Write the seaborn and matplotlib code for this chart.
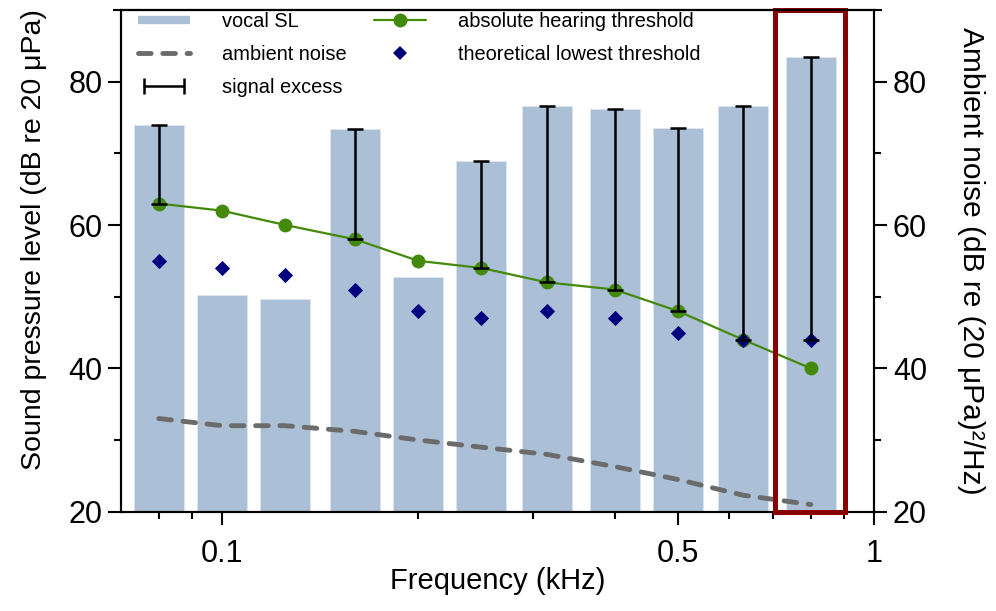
import numpy as np
import pandas as pd
import matplotlib
matplotlib.use("Agg")
import matplotlib.pyplot as plt
import seaborn as sns
from matplotlib.lines import Line2D
from matplotlib.patches import Rectangle
from matplotlib.legend_handler import HandlerLine2D
from matplotlib.ticker import FixedLocator, FixedFormatter, NullFormatter

# ---------------- data ----------------
freq_khz = [0.08, 0.1, 0.125, 0.16, 0.2, 0.25, 0.315, 0.4, 0.5, 0.63, 0.8]
vocal_sl = [73.9, 50.3, 49.7, 73.4, 52.7, 69.0, 76.6, 76.2, 73.5, 76.6, 83.5]
hearing_threshold = [63, 62, 60, 58, 55, 54, 52, 51, 48, 44, 40]
theoretical_threshold = [55, 54, 53, 51, 48, 47, 48, 47, 45, 44, 44]
ambient_noise = [33, 32, 32, 31.2, 30, 29, 28, 26.3, 24.5, 22.3, 21]
highlight_freq = 0.8
x_major_ticks = [0.1, 0.5, 1]
x_major_labels = ["0.1", "0.5", "1"]
x_minor_ticks = [0.08, 0.09, 0.2, 0.3, 0.4, 0.6, 0.7, 0.8, 0.9]
y_major_ticks = [20, 40, 60, 80]
y_minor_ticks = [30, 50, 70]

df = pd.DataFrame({"freq": freq_khz, "sl": vocal_sl,
                   "thr": hearing_threshold, "theo": theoretical_threshold,
                   "noise": ambient_noise})

# ---------------- style ----------------
sns.set_theme(style="ticks")
plt.rcParams["font.family"] = ["Liberation Sans", "DejaVu Sans"]
plt.rcParams["axes.linewidth"] = 1.5

bar_color = "#abbfd7"
green = "#438a0c"
navy = "#00007f"
noise_color = "#6b6b6b"
red = "#8b0000"
noise_dash = (0, (2.6, 2.4))
TICK_FS = 22

fig = plt.figure(figsize=(9.96, 6.11), dpi=100)
ax = fig.add_axes([121 / 996, 1 - 511.7 / 611, (874 - 121) / 996, (511.7 - 10) / 611])

# bars
sns.barplot(data=df, x="freq", y="sl", ax=ax, native_scale=True,
            log_scale=(True, False), width=0.79, color=bar_color,
            saturation=1, errorbar=None, edgecolor="#dde5ef", linewidth=0.6,
            zorder=1)

# hearing threshold line
sns.lineplot(data=df, x="freq", y="thr", ax=ax, color=green, lw=1.6,
             marker="o", markersize=10, markeredgewidth=0,
             markeredgecolor=green, zorder=4)

# theoretical threshold
sns.scatterplot(data=df, x="freq", y="theo", ax=ax, marker="D", s=60,
                color=navy, linewidth=0, zorder=4)

# signal excess error bars
lower = np.maximum(np.array(hearing_threshold), np.array(theoretical_threshold))
sl = np.array(vocal_sl)
mask = sl > lower
fx = np.array(freq_khz)[mask]
mid = (sl[mask] + lower[mask]) / 2
half = (sl[mask] - lower[mask]) / 2
ax.errorbar(fx, mid, yerr=half, fmt="none", ecolor="black", elinewidth=1.8,
            capsize=6, capthick=1.8, zorder=5)

ax.set_ylim(20, 90)
ax.set_ylabel("Sound pressure level (dB re 20 μPa)", fontsize=20.5,
              labelpad=15, color="black")
ax.yaxis.label.set_y(0.5416)
for s in ax.spines.values():
    s.set_color("black")
    s.set_linewidth(1.5)

# twin axis for ambient noise
ax2 = ax.twinx()
sns.lineplot(data=df, x="freq", y="noise", ax=ax2, color=noise_color, lw=3.5,
             linestyle=noise_dash, dash_capstyle="round")
ax2.set_ylim(20, 90)
ax2.set_ylabel("Ambient noise (dB re (20 μPa)²/Hz)", fontsize=21.5,
               rotation=270, labelpad=42, color="black")
for s in ax2.spines.values():
    s.set_color("black")
    s.set_linewidth(1.5)

# axis ticks (set last so nothing resets them)
ax.set_xlim(0.07, 1.0)
ax.xaxis.set_major_locator(FixedLocator(x_major_ticks))
ax.xaxis.set_major_formatter(FixedFormatter(x_major_labels))
ax.xaxis.set_minor_locator(FixedLocator(x_minor_ticks))
ax.xaxis.set_minor_formatter(NullFormatter())
for a in (ax, ax2):
    a.yaxis.set_major_locator(FixedLocator(y_major_ticks))
    a.yaxis.set_minor_locator(FixedLocator(y_minor_ticks))
    a.yaxis.set_minor_formatter(NullFormatter())
    a.tick_params(which="major", length=9.5, width=1.5, labelsize=TICK_FS,
                  direction="out", color="black", labelcolor="black", pad=4)
    a.tick_params(which="minor", length=5, width=1.5, direction="out",
                  color="black")
ax.tick_params(axis="x", which="major", pad=10)
ax.set_xlabel("Frequency (kHz)", fontsize=21, labelpad=-1, color="black")

# highlight rectangle around the last band
f_lo = highlight_freq / 1.136
f_hi = highlight_freq * 1.127
ax2.add_patch(Rectangle((f_lo, 20), f_hi - f_lo, 70, fill=False,
                        edgecolor=red, linewidth=3.6, clip_on=False, zorder=6))

# top border extending slightly beyond spines
ax2.plot([-0.011, 1.011], [1, 1], transform=ax2.transAxes, color="black",
         lw=1.5, clip_on=False, zorder=7, solid_capstyle="butt")

# legend
h_sl = Line2D([], [], color=bar_color, lw=6, solid_capstyle="butt")
h_noise = Line2D([], [], color=noise_color, lw=3.5, linestyle=noise_dash,
                 dash_capstyle="round")
h_exc = Line2D([], [], color="black", lw=1.8, marker="|", markersize=11,
               markeredgewidth=1.8)
h_thr = Line2D([], [], color=green, lw=1.6, marker="o", markersize=10,
               markeredgewidth=0)
h_theo = Line2D([], [], color=navy, ls="none", marker="D", markersize=7.5,
                markeredgewidth=0)
leg = ax2.legend([h_sl, h_noise, h_exc, h_thr, h_theo],
                 ["vocal SL", "ambient noise", "signal excess",
                  "absolute hearing threshold", "theoretical lowest threshold"],
                 ncol=2, loc="upper left", bbox_to_anchor=(0.02, 1.0),
                 frameon=False, fontsize=14.4, handlelength=2.6,
                 handletextpad=1.6, columnspacing=1.35, labelspacing=0.7,
                 borderpad=0.1, borderaxespad=0,
                 handler_map={h_exc: HandlerLine2D(numpoints=2)})
for t in leg.get_texts():
    t.set_color("black")

fig.savefig("out.png", dpi=100)
